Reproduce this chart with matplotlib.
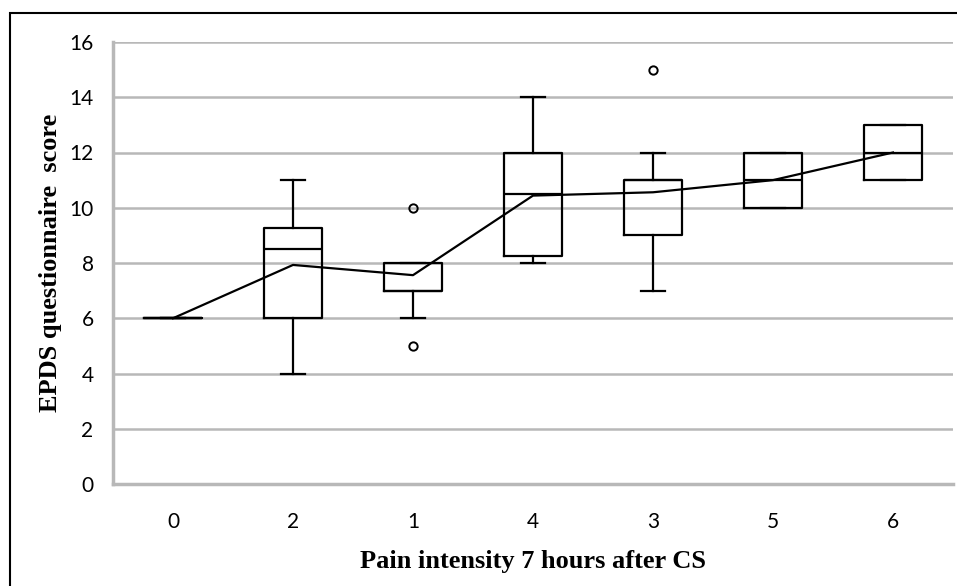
import matplotlib
matplotlib.use("Agg")
import matplotlib.pyplot as plt
from matplotlib.patches import Rectangle

categories = ["0", "2", "1", "4", "3", "5", "6"]
q1 = [6, 6, 7, 8.25, 9, 10, 11]
med = [6, 8.5, 7, 10.5, 11, 11, 12]
q3 = [6, 9.25, 8, 12, 11, 12, 13]
whislo = [6, 4, 6, 8, 7, 10, 11]
whishi = [6, 11, 8, 14, 12, 12, 13]
fliers = [[], [], [5, 10], [], [15], [], []]
means = [6, 7.93, 7.56, 10.44, 10.56, 11.0, 12.0]
yticks = [0, 2, 4, 6, 8, 10, 12, 14, 16]

fig = plt.figure(figsize=(9.57, 5.86), dpi=100)
ax = fig.add_axes([113/957, (586-484)/586, 840/957, 442/586])

stats = []
for i, c in enumerate(categories):
    stats.append(dict(label=c, q1=q1[i], med=med[i], q3=q3[i],
                      whislo=whislo[i], whishi=whishi[i], fliers=fliers[i]))
pos = list(range(len(categories)))
ax.bxp(stats, positions=pos, widths=0.48, showfliers=True,
       boxprops=dict(color="black", linewidth=1.6),
       medianprops=dict(color="black", linewidth=1.6),
       whiskerprops=dict(color="black", linewidth=1.6),
       capprops=dict(color="black", linewidth=1.6),
       capwidths=0.2,
       flierprops=dict(marker="o", markerfacecolor="none", markeredgecolor="black",
                       markersize=6, markeredgewidth=1.4),
       zorder=3)
ax.plot(pos, means, color="black", linewidth=1.6, zorder=4)

ax.set_xlim(-0.5, 6.5)
ax.set_ylim(0, 16)
ax.set_yticks(yticks)
ax.set_xticks(pos)
ax.set_xticklabels(categories)
ax.grid(axis="y", color="#b8b8b8", linewidth=1.8, zorder=0)
ax.set_axisbelow(True)
for s in ["top", "right"]:
    ax.spines[s].set_visible(False)
for s in ["left", "bottom"]:
    ax.spines[s].set_color("#b8b8b8")
    ax.spines[s].set_linewidth(2.5)
ax.tick_params(length=0, labelsize=15)
for lab in ax.get_xticklabels() + ax.get_yticklabels():
    lab.set_family("Lato")
ax.tick_params(axis="x", pad=20)
ax.tick_params(axis="y", pad=14)

ax.set_xlabel("Pain intensity 7 hours after CS", family="Liberation Serif",
              fontweight="bold", fontsize=19, labelpad=13)
ax.set_ylabel("EPDS questionnaire  score", family="Liberation Serif",
              fontweight="bold", fontsize=19, labelpad=5)

fig.patches.append(Rectangle((10/957, -0.05), 1.2, (586-13)/586 + 0.05,
                             transform=fig.transFigure, fill=False,
                             edgecolor="black", linewidth=1.5))

fig.savefig("out.png", dpi=100)
